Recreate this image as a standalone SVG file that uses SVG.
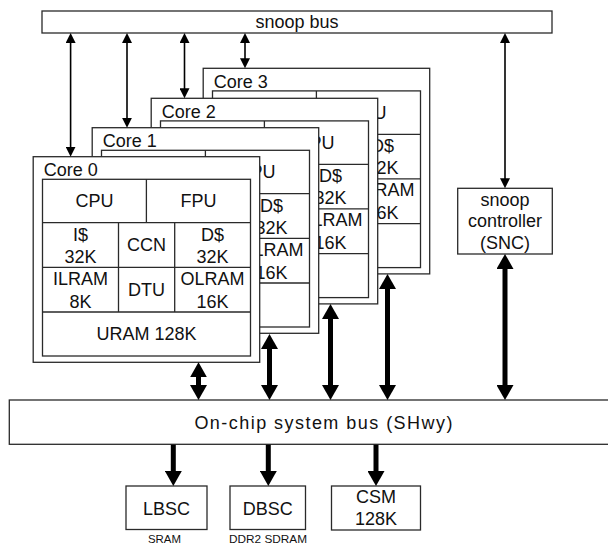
<svg xmlns="http://www.w3.org/2000/svg" width="608" height="544" viewBox="0 0 608 544">
<defs>
<style>
.box{fill:#fff;stroke:#2a2a2a;stroke-width:1.3}
.ln{fill:none;stroke:#2a2a2a;stroke-width:1.3}
.t{font-family:"Liberation Sans",Arial,sans-serif;font-size:18px;fill:#111;text-anchor:middle}
.tl{font-family:"Liberation Sans",Arial,sans-serif;font-size:18px;fill:#111}
.s{font-family:"Liberation Sans",Arial,sans-serif;font-size:11px;fill:#111;text-anchor:middle}
.thin{fill:none;stroke:#000;stroke-width:1.6;marker-start:url(#ah);marker-end:url(#ah)}
.thick{fill:none;stroke:#000;stroke-width:5;marker-start:url(#AH);marker-end:url(#AH)}
.thickd{fill:none;stroke:#000;stroke-width:5;marker-end:url(#AH)}
</style>
<marker id="ah" markerUnits="userSpaceOnUse" markerWidth="10" markerHeight="10" viewBox="0 0 10 10" refX="2" refY="5" orient="auto-start-reverse"><path d="M0,0 L10,5 L0,10 Z" fill="#000"/></marker>
<marker id="AH" markerUnits="userSpaceOnUse" markerWidth="15" markerHeight="17" viewBox="0 0 15 17" refX="3" refY="8.5" orient="auto-start-reverse"><path d="M0,0 L15,8.5 L0,17 Z" fill="#000"/></marker>
</defs>
<rect width="608" height="544" fill="#fff"/>

<g id="snoop-bus"><rect class="box" x="42" y="11" width="510" height="22"/><text class="t" x="297" y="28">snoop bus</text></g>

<g id="core3" transform="translate(203.2,68.3)">
<rect class="box" x="0" y="0" width="226.5" height="205.6"/>
<text class="tl" x="10.5" y="19.5">Core 3</text>
<rect class="box" x="9.3" y="22.6" width="208" height="176.7"/>
<path class="ln" d="M9.3,66H217.3M9.3,110.6H217.3M9.3,155.3H217.3M113.2,22.6V66M85.3,66V155.3M141.5,66V155.3"/>
<text class="t" x="165.2" y="50.5">FPU</text>
<text class="t" x="179.4" y="84">D$</text><text class="t" x="179.4" y="106">32K</text>
<text class="t" x="179.4" y="128">OLRAM</text><text class="t" x="179.4" y="151">16K</text>
</g>

<g id="core2" transform="translate(151.2,98.3)">
<rect class="box" x="0" y="0" width="226.5" height="205.6"/>
<text class="tl" x="10.5" y="19.5">Core 2</text>
<rect class="box" x="9.3" y="22.6" width="208" height="176.7"/>
<path class="ln" d="M9.3,66H217.3M9.3,110.6H217.3M9.3,155.3H217.3M113.2,22.6V66M85.3,66V155.3M141.5,66V155.3"/>
<text class="t" x="165.2" y="50.5">FPU</text>
<text class="t" x="179.4" y="84">D$</text><text class="t" x="179.4" y="106">32K</text>
<text class="t" x="179.4" y="128">OLRAM</text><text class="t" x="179.4" y="151">16K</text>
</g>

<g id="core1" transform="translate(92.2,127.7)">
<rect class="box" x="0" y="0" width="226.5" height="205.6"/>
<text class="tl" x="10.5" y="19.5">Core 1</text>
<rect class="box" x="9.3" y="22.6" width="208" height="176.7"/>
<path class="ln" d="M9.3,66H217.3M9.3,110.6H217.3M9.3,155.3H217.3M113.2,22.6V66M85.3,66V155.3M141.5,66V155.3"/>
<text class="t" x="165.2" y="50.5">FPU</text>
<text class="t" x="179.4" y="84">D$</text><text class="t" x="179.4" y="106">32K</text>
<text class="t" x="179.4" y="128">OLRAM</text><text class="t" x="179.4" y="151">16K</text>
</g>

<g id="core0" transform="translate(33.2,156.7)">
<rect class="box" x="0" y="0" width="226.5" height="205.6"/>
<text class="tl" x="10.5" y="19.5">Core 0</text>
<rect class="box" x="9.3" y="22.6" width="208" height="176.7"/>
<path class="ln" d="M9.3,66H217.3M9.3,110.6H217.3M9.3,155.3H217.3M113.2,22.6V66M85.3,66V155.3M141.5,66V155.3"/>
<text class="t" x="61.2" y="50.8">CPU</text><text class="t" x="165.2" y="50.8">FPU</text>
<text class="t" x="47.3" y="84">I$</text><text class="t" x="47.3" y="106">32K</text>
<text class="t" x="113.4" y="94.8">CCN</text>
<text class="t" x="179.4" y="84">D$</text><text class="t" x="179.4" y="106">32K</text>
<text class="t" x="47.3" y="128">ILRAM</text><text class="t" x="47.3" y="151">8K</text>
<text class="t" x="113.4" y="139.8">DTU</text>
<text class="t" x="179.4" y="128">OLRAM</text><text class="t" x="179.4" y="151">16K</text>
<text class="t" x="113.3" y="183.8">URAM 128K</text>
</g>

<g id="snc"><rect class="box" x="457.7" y="188.3" width="94.6" height="65.7"/>
<text class="t" x="505" y="206">snoop</text><text class="t" x="505" y="227">controller</text><text class="t" x="505" y="248.5">(SNC)</text></g>

<g id="shwy"><rect class="box" x="9.3" y="400" width="610" height="44.3"/><text class="t" x="323.4" y="428.8" textLength="258" lengthAdjust="spacing">On-chip system bus (SHwy)</text></g>

<g id="lbsc"><rect class="box" x="126" y="486" width="81" height="43.5"/><text class="t" x="166.5" y="514.5">LBSC</text></g>
<g id="dbsc"><rect class="box" x="230" y="486" width="75.5" height="43.5"/><text class="t" x="267.8" y="514.5">DBSC</text></g>
<g id="csm"><rect class="box" x="331.5" y="486" width="89" height="44"/><text class="t" x="376" y="503">CSM</text><text class="t" x="376" y="525">128K</text></g>
<text class="s" x="164.5" y="542.5" textLength="33" lengthAdjust="spacingAndGlyphs">SRAM</text>
<text class="s" x="268" y="542.5" textLength="78" lengthAdjust="spacingAndGlyphs">DDR2 SDRAM</text>

<g id="connectors">
<path class="thin" d="M70.6,41V148.7"/>
<path class="thin" d="M127,41V119.7"/>
<path class="thin" d="M184.5,41V90.3"/>
<path class="thin" d="M245,41V60.3"/>
<path class="thin" d="M505,41V180.3"/>
<path class="thick" d="M198.5,374.3V388"/>
<path class="thick" d="M269.5,346V388"/>
<path class="thick" d="M330.5,316V388"/>
<path class="thick" d="M387.5,286V388"/>
<path class="thick" d="M505,266V388"/>
<path class="thickd" d="M173.3,444.7V474"/>
<path class="thickd" d="M268.3,444.7V474"/>
<path class="thickd" d="M376,444.7V474"/>
</g>
</svg>
